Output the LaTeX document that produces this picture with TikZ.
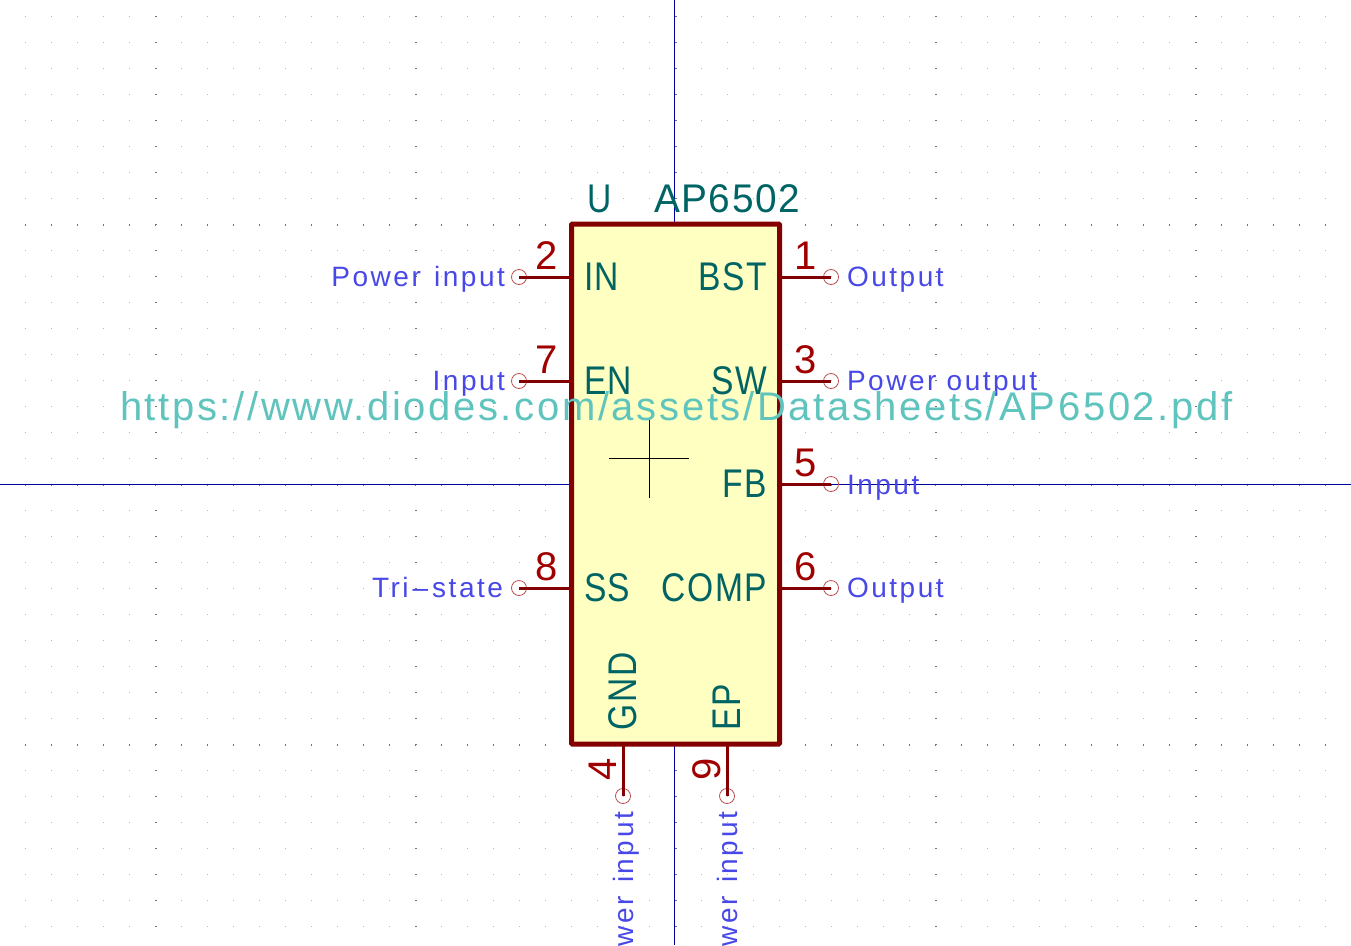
\documentclass[tikz,border=0pt]{standalone}
\usepackage{fontspec}
\setmainfont[LetterSpace=4]{Liberation Sans}
\newfontfamily\namefont[FakeStretch=.84,LetterSpace=4]{Liberation Sans}
\newfontfamily\valfont[FakeStretch=.97,LetterSpace=4]{Liberation Sans}
\newfontfamily\pinfont[LetterSpace=9]{Liberation Sans}
\newfontfamily\urlfont[LetterSpace=6.6]{Liberation Sans}
\definecolor{bodyred}{HTML}{840000}
\definecolor{bodyfill}{HTML}{FFFFC2}
\definecolor{nametxt}{HTML}{006464}
\definecolor{numtxt}{HTML}{A00000}
\definecolor{typetxt}{HTML}{4848E8}
\definecolor{urltxt}{HTML}{5FC4BE}
\definecolor{axisblue}{HTML}{0000A0}
\begin{document}
\begin{tikzpicture}[
      x = 1pt, y = -1pt,
      every node/.style = {inner sep = 0pt, outer sep = 0pt},
      griddot/.style = {fill = black!28},
      majordot/.style = {fill = black!55},
      axis/.style = {axisblue, line width = 1pt},
      pinline/.style = {bodyred, line width = 3pt},
      pincirc/.style = {circle, draw = numtxt!70, line width = .8pt, minimum size = 15pt},
      pinname/.style = {nametxt, font = \fontsize{40}{40}\namefont},
      pinnum/.style = {numtxt, font = \fontsize{40}{40}\selectfont},
      pintype/.style = {typetxt, font = \fontsize{28}{28}\pinfont}
      ]
    \useasboundingbox (0,0) rectangle (1351,945);
    \fill[white] (0,0) rectangle (1351,945);

    % grid
    \foreach \i in {0,...,51} {
      \foreach \j in {0,...,35} {
        \pgfmathsetmacro{\gx}{25+26*\i}
        \pgfmathsetmacro{\gy}{16+26*\j}
        \fill[griddot] (\gx,\gy) rectangle ++(1.2,1.2);
      }
    }
    \foreach \i in {0,...,51} {
      \foreach \j in {8,18,28} {
        \pgfmathsetmacro{\gx}{25+26*\i}
        \pgfmathsetmacro{\gy}{16+26*\j}
        \fill[majordot] (\gx,\gy) rectangle ++(1.2,2.2);
      }
    }
    \foreach \i in {5,15,25,35,45} {
      \foreach \j in {0,...,35} {
        \pgfmathsetmacro{\gx}{25+26*\i}
        \pgfmathsetmacro{\gy}{16+26*\j}
        \fill[majordot] (\gx,\gy) rectangle ++(2.2,1.2);
      }
    }

    \coordinate (axtop) at (674.5,0);
    \coordinate (axbot) at (674.5,945);
    \coordinate (axleft) at (0,484.5);
    \coordinate (axright) at (1351,484.5);
    \draw[axis] (axtop)--(axbot);
    \draw[axis] (axleft)--(axright);

    \node (body) at (675.5,484) [rectangle, draw = bodyred, fill = bodyfill, line width = 5pt,
      rounded corners = 1pt, minimum width = 208pt, minimum height = 520pt] {};

    \node[pincirc] (p2) at (519,277) {};
    \node[pincirc] (p7) at (519,381) {};
    \node[pincirc] (p8) at (519,588) {};
    \node[pincirc] (p1) at (831,277) {};
    \node[pincirc] (p3) at (831,381) {};
    \node[pincirc] (p5) at (831,484) {};
    \node[pincirc] (p6) at (831,588) {};
    \node[pincirc] (p4) at (623,796) {};
    \node[pincirc] (p9) at (727,796) {};

    \draw[pinline] (p2.center)--(p2.center -| body.west);
    \draw[pinline] (p7.center)--(p7.center -| body.west);
    \draw[pinline] (p8.center)--(p8.center -| body.west);
    \draw[pinline] (p1.center)--(p1.center -| body.east);
    \draw[pinline] (p3.center)--(p3.center -| body.east);
    \draw[pinline] (p5.center)--(p5.center -| body.east);
    \draw[pinline] (p6.center)--(p6.center -| body.east);
    \draw[pinline] (p4.center)--(p4.center |- body.south);
    \draw[pinline] (p9.center)--(p9.center |- body.south);

    \node[pinnum, anchor = base] (n2) at (546.5,269) {2};
    \node[pinnum, anchor = base] (n7) at (546.5,373) {7};
    \node[pinnum, anchor = base] (n8) at (546.5,580) {8};
    \node[pinnum, anchor = base] (n1) at (806,269) {1};
    \node[pinnum, anchor = base] (n3) at (806,373) {3};
    \node[pinnum, anchor = base] (n5) at (806,476) {5};
    \node[pinnum, anchor = base] (n6) at (806,580) {6};
    \node[pinnum, anchor = base, rotate = 90] (n4) at (616.5,769) {4};
    \node[pinnum, anchor = base, rotate = 90] (n9) at (720.5,769) {9};

    \node[pinname, anchor = base west] (IN) at (584,290) {IN};
    \node[pinname, anchor = base west] (EN) at (584,394) {EN};
    \node[pinname, anchor = base west] (SS) at (584,601) {SS};
    \node[pinname, anchor = base east] (BST) at (767,290) {BST};
    \node[pinname, anchor = base east] (SW) at (767,394) {SW};
    \node[pinname, anchor = base east] (FB) at (767,497) {FB};
    \node[pinname, anchor = base east] (COMP) at (767,601) {COMP};
    \node[pinname, anchor = base west, rotate = 90] (GND) at (636,730) {GND};
    \node[pinname, anchor = base west, rotate = 90] (EP) at (740,730) {EP};

    \node[pinname, anchor = base west] (ref) at (587,212) {U};
    \node[pinname, anchor = base west, font = \fontsize{40}{40}\valfont] (val) at (654,212) {AP6502};

    \node[pintype, anchor = base east] (t2) at (505,286) {Power\hspace{3pt} input};
    \node[pintype, anchor = base east] (t7) at (505,390) {Input};
    \node[pintype, anchor = base east] (t8) at (503,597) {Tri\hspace{4pt}\textendash\hspace{4pt}state};
    \node[pintype, anchor = base west] (t1) at (847,286) {Output};
    \node[pintype, anchor = base west] (t3) at (847,390) {Power output};
    \node[pintype, anchor = base west] (t5) at (847,494) {Input};
    \node[pintype, anchor = base west] (t6) at (847,597) {Output};
    \node[pintype, anchor = base east, rotate = 90] (t4) at (633,812) {Power\hspace{3pt} input};
    \node[pintype, anchor = base east, rotate = 90] (t9) at (737,812) {Power\hspace{3pt} input};

    \coordinate (crossl) at (609,458.5);
    \coordinate (crossr) at (689,458.5);
    \coordinate (crosst) at (649.5,418);
    \coordinate (crossb) at (649.5,498);
    \draw[black, line width = 1pt] (crossl)--(crossr);
    \draw[black, line width = 1pt] (crosst)--(crossb);

    \node[urltxt, anchor = base west, font = \fontsize{40}{40}\urlfont] (url) at (120,420)
      {https://www.diodes.com/assets/Datasheets/AP6502.pdf};
  \end{tikzpicture}
\end{document}
